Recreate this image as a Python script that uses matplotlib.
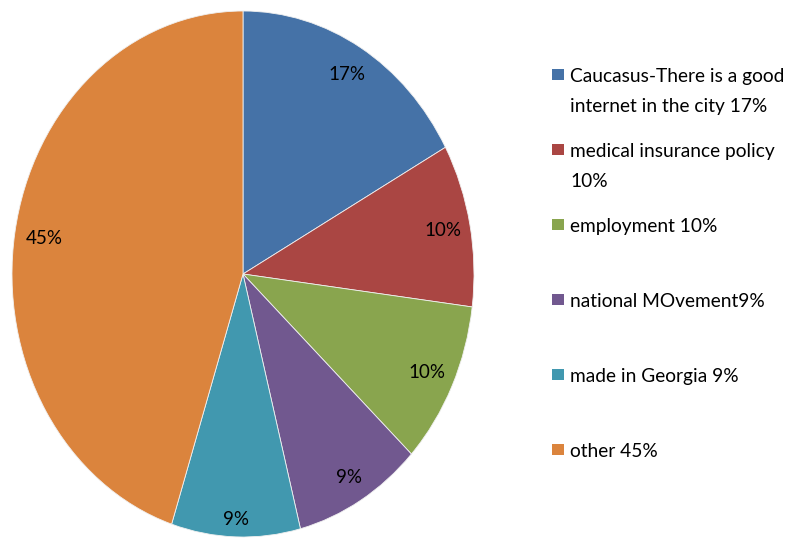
import matplotlib
matplotlib.use('Agg')
import matplotlib.pyplot as plt
from matplotlib.patches import Rectangle
import numpy as np

# data
labels = ['Caucasus-There is a good\ninternet in the city 17%',
          'medical insurance policy\n10%',
          'employment 10%',
          'national MOvement9%',
          'made in Georgia 9%',
          'other 45%']
values = [17, 10, 10, 9, 9, 45]
pct_labels = ['17%', '10%', '10%', '9%', '9%', '45%']

colors = ['#4572A7', '#AA4643', '#89A54E', '#71588F', '#4198AF', '#DB843D']
label_dist = [0.88, 0.88, 0.88, 0.90, 0.935, 0.87]

plt.rcParams['font.family'] = ['Lato', 'DejaVu Sans']

W, H = 788, 538
fig = plt.figure(figsize=(W / 100, H / 100), dpi=100)
ax = fig.add_axes([12/W, 1/H, 462/W, 526/H])

wedges, _ = ax.pie(values, colors=colors, startangle=90, counterclock=False,
                   wedgeprops=dict(edgecolor='#f0f0f0', linewidth=0.6))
ax.set_aspect('auto')
ax.set_xlim(-1, 1)
ax.set_ylim(-1, 1)

# percent labels inside the slices
for w, txt, d in zip(wedges, pct_labels, label_dist):
    ang = np.deg2rad((w.theta1 + w.theta2) / 2)
    ax.text(d * np.cos(ang), d * np.sin(ang), txt, ha='center', va='center',
            fontsize=13.5, color='black')

# legend drawn by hand, one line of text at a time
base0 = 81.7
step = 75
line_h = 30
for i, (lab, c) in enumerate(zip(labels, colors)):
    b = base0 + i * step
    fig.patches.append(Rectangle((552/W, (H - b + 2)/H), 12/W, 11/H,
                                 transform=fig.transFigure, facecolor=c,
                                 edgecolor='none'))
    for j, line in enumerate(lab.split('\n')):
        fig.text(570/W, (H - b - j * line_h)/H, line, ha='left',
                 va='baseline', fontsize=13.8, color='black')

fig.savefig('out.png', dpi=100)
